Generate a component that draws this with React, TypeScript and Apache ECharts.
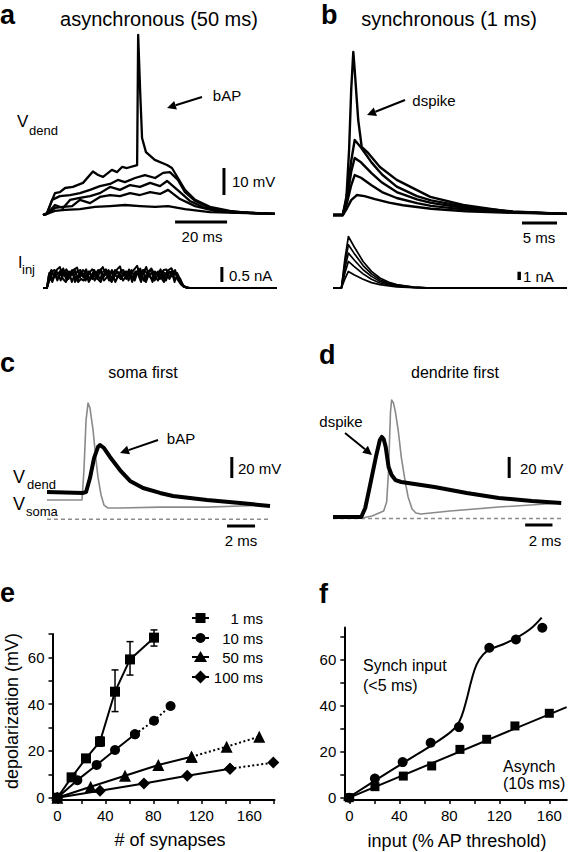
import React, { useEffect, useRef } from "react";
import * as echarts from "echarts";

const FONT = "'Liberation Sans', Arial, Helvetica, sans-serif";

// ---------- Panel a : asynchronous (50 ms) ----------  [t (ms), V (mV)]
const aV1 = [[0,0],[1.5,0.7],[4.6,8.1],[6.5,8.5],[8.5,10],[11.5,10.4],[15.4,11.9],[19.2,16.1],[21.2,14.8],[23.1,14.1],[26.5,16.7],[28.5,15.9],[30.4,17.8],[32.3,17.4],[36.2,18.5],[36.6,66.7],[37.4,45],[38.1,28.5],[39.6,23.3],[43,20.4],[47.7,18.5],[49.6,17.4],[51.9,13.7],[54.6,9.3],[58.5,5.6],[64.2,3],[71.9,1.5],[79.6,0.7],[89.2,0.4]];
const aV2 = [[0,0],[1.5,0.4],[3.5,5.6],[6.5,7],[10.4,7.4],[14.2,8.1],[18.1,9.3],[21.9,10.7],[25.8,11.5],[28.8,13],[31.5,12.2],[35.4,13.7],[39.2,14.8],[43.1,13.7],[46.2,15.6],[48.8,15.9],[51.9,13],[54.6,8.5],[58.5,5.2],[64.2,2.6],[71.9,1.1],[89.2,0.4]];
const aV3 = [[0,0],[1.5,0.4],[4.6,3.7],[7.7,2.6],[10.4,5.6],[14.2,6.3],[18.1,7],[21.9,8.1],[25.8,10.4],[29.6,9.3],[33.5,11.1],[37.3,10.4],[41.2,11.9],[45,10.7],[47.7,12.6],[52.7,8.5],[56.5,5.2],[62.3,2.6],[71.9,1.1],[89.2,0.4]];
const aV4 = [[0,0],[1.5,0.4],[4.6,2.6],[7.7,3],[11.2,3.3],[14.2,5.6],[18.1,4.4],[21.9,6.7],[25.8,7.4],[29.6,7],[33.5,8.1],[37.3,7.4],[41.2,8.5],[45,7.8],[48.1,9.3],[52.7,5.9],[58.5,3.3],[66.2,1.5],[89.2,0.4]];
const aV5 = [[0,0],[1.5,0.4],[4.6,1.5],[8.5,1.9],[14.2,2.2],[20,3],[25.8,3.3],[31.5,3.7],[37.3,3.3],[43.1,3],[48.1,3.3],[54.6,2.2],[64.2,1.1],[89.2,0.4]];
// injected current [t (ms), I (nA)]
const aI1 = [[0,0],[1.5,0],[2.2,0.4],[3.2,0.6],[4.3,0.35],[5.4,0.62],[6.5,0.7],[7.6,0.4],[8.7,0.55],[9.8,0.3],[10.9,0.5],[12,0.62],[13.1,0.68],[14.2,0.35],[15.3,0.5],[16.4,0.25],[17.5,0.55],[18.6,0.4],[19.7,0.6],[20.8,0.3],[21.9,0.55],[23,0.7],[24.1,0.45],[25.2,0.6],[26.3,0.3],[27.4,0.5],[28.5,0.62],[29.6,0.72],[30.7,0.4],[31.8,0.55],[32.9,0.25],[34,0.5],[35.1,0.62],[36.2,0.74],[37.3,0.45],[38.4,0.6],[39.5,0.3],[40.6,0.55],[41.7,0.65],[42.8,0.35],[43.9,0.5],[45,0.3],[46.1,0.55],[47.2,0.45],[48.3,0.6],[49.4,0.66],[50.5,0.45],[51.6,0.5],[52.7,0.25],[53.8,0.1],[55,0.02],[57,0],[90,0]];
const aI2 = [[0,0],[1.5,0],[2.3,0.25],[3.4,0.55],[4.5,0.6],[5.6,0.3],[6.7,0.45],[7.8,0.65],[8.9,0.35],[10,0.55],[11.1,0.2],[12.2,0.45],[13.3,0.55],[14.4,0.6],[15.5,0.35],[16.6,0.62],[17.7,0.3],[18.8,0.45],[19.9,0.25],[21,0.5],[22.1,0.62],[23.2,0.35],[24.3,0.5],[25.4,0.25],[26.5,0.6],[27.6,0.45],[28.7,0.35],[29.8,0.55],[30.9,0.6],[32,0.3],[33.1,0.62],[34.2,0.4],[35.3,0.25],[36.4,0.55],[37.5,0.35],[38.6,0.5],[39.7,0.7],[40.8,0.4],[41.9,0.3],[43,0.55],[44.1,0.45],[45.2,0.62],[46.3,0.3],[47.4,0.5],[48.5,0.35],[49.6,0.55],[50.7,0.3],[51.8,0.35],[52.9,0.15],[54,0.05],[56,0],[90,0]];
const aI3 = [[0,0],[1.5,0],[2.4,0.5],[3.5,0.3],[4.6,0.45],[5.7,0.52],[6.8,0.25],[7.9,0.5],[9,0.62],[10.1,0.45],[11.2,0.6],[12.3,0.2],[13.4,0.4],[14.5,0.55],[15.6,0.45],[16.7,0.3],[17.8,0.5],[18.9,0.62],[20,0.55],[21.1,0.3],[22.2,0.2],[23.3,0.45],[24.4,0.55],[25.5,0.45],[26.6,0.3],[27.7,0.6],[28.8,0.5],[29.9,0.3],[31,0.45],[32.1,0.55],[33.2,0.5],[34.3,0.2],[35.4,0.45],[36.5,0.6],[37.6,0.55],[38.7,0.25],[39.8,0.45],[40.9,0.55],[42,0.6],[43.1,0.4],[44.2,0.25],[45.3,0.45],[46.4,0.6],[47.5,0.62],[48.6,0.3],[49.7,0.45],[50.8,0.6],[51.9,0.3],[53,0.2],[54.2,0.05],[56,0],[90,0]];
const aI4 = [[0,0],[1.5,0],[2.2,0.2],[3.3,0.45],[4.4,0.5],[5.5,0.25],[6.6,0.55],[7.7,0.3],[8.8,0.2],[9.9,0.45],[11,0.55],[12.1,0.4],[13.2,0.25],[14.3,0.45],[15.4,0.6],[16.5,0.5],[17.6,0.2],[18.7,0.35],[19.8,0.5],[20.9,0.45],[22,0.3],[23.1,0.55],[24.2,0.62],[25.3,0.35],[26.4,0.2],[27.5,0.4],[28.6,0.55],[29.7,0.45],[30.8,0.25],[31.9,0.4],[33,0.45],[34.1,0.6],[35.2,0.35],[36.3,0.5],[37.4,0.65],[38.5,0.3],[39.6,0.2],[40.7,0.45],[41.8,0.5],[42.9,0.25],[44,0.4],[45.1,0.55],[46.2,0.45],[47.3,0.25],[48.4,0.5],[49.5,0.55],[50.6,0.2],[51.7,0.45],[52.8,0.3],[54,0.06],[56,0],[90,0]];
const aI5 = [[0,0],[1.5,0],[2.5,0.35],[3.6,0.2],[4.7,0.5],[5.8,0.45],[6.9,0.6],[8,0.5],[9.1,0.25],[10.2,0.4],[11.3,0.45],[12.4,0.58],[13.5,0.2],[14.6,0.3],[15.7,0.25],[16.8,0.45],[17.9,0.55],[19,0.3],[20.1,0.45],[21.2,0.6],[22.3,0.5],[23.4,0.25],[24.5,0.35],[25.6,0.55],[26.7,0.5],[27.8,0.2],[28.9,0.4],[30,0.3],[31.1,0.55],[32.2,0.35],[33.3,0.45],[34.4,0.3],[35.5,0.55],[36.6,0.45],[37.7,0.2],[38.8,0.6],[39.9,0.5],[41,0.45],[42.1,0.2],[43.2,0.45],[44.3,0.55],[45.4,0.35],[46.5,0.2],[47.6,0.4],[48.7,0.55],[49.8,0.4],[50.9,0.5],[52,0.25],[53.1,0.12],[54.5,0.03],[56,0],[90,0]];

// ---------- Panel b : synchronous (1 ms) ----------
const bV1 = [[0,0],[1.4,0],[1.9,5.6],[2.3,24.1],[2.6,46.3],[2.9,60.4],[3.1,53.7],[3.6,35.2],[4.1,25.2],[4.9,23.3],[6.7,17.8],[9.1,13],[13.9,6.7],[18.6,3.7],[25.7,1.1],[33.4,0.4]];
const bV2 = [[0,0],[1.4,0],[2,8],[2.6,20],[3.1,27.8],[4,25],[5.5,19.5],[7,15],[9.1,10.5],[12,7],[14,5.4],[19,3],[25.7,1.3],[33.4,0.4]];
const bV3 = [[0,0],[1.4,0],[2,6],[2.6,16],[3.1,21.1],[4,19.5],[5.5,15.5],[7,12],[9.1,8.5],[12,5.8],[14,4.5],[19,2.5],[25.7,1.1],[33.4,0.4]];
const bV4 = [[0,0],[1.4,0],[2,4.5],[2.6,11],[3.1,14.8],[4,13.8],[5.5,11],[7,8.5],[9.1,6.3],[12,4.4],[14,3.4],[19,2],[25.7,1],[33.4,0.4]];
const bV5 = [[0,0],[1.4,0],[2,2.5],[2.6,5.5],[3.4,7.4],[4.5,7],[6,5.9],[8,4.6],[10,3.6],[14,2.3],[19,1.4],[25.7,0.8],[33.4,0.4]];
const bI1 = [[0,0],[1.2,0],[1.7,3.5],[2.2,6.2],[3,5],[4.3,3.2],[5.5,2],[6.7,1.2],[8,0.7],[9.1,0.4],[11.5,0.1],[14,0],[33.4,0]];
const bI2 = [[0,0],[1.2,0],[1.7,3],[2.2,5.2],[3,4.2],[4.3,2.7],[5.5,1.7],[6.7,1],[8,0.6],[9.1,0.35],[11.5,0.1],[14,0],[33.4,0]];
const bI3 = [[0,0],[1.2,0],[1.7,2.4],[2.2,4.2],[3,3.4],[4.3,2.2],[5.5,1.4],[6.7,0.8],[8,0.5],[9.1,0.3],[11.5,0.08],[14,0],[33.4,0]];
const bI4 = [[0,0],[1.2,0],[1.7,1.8],[2.2,3.2],[3,2.6],[4.3,1.7],[5.5,1.05],[6.7,0.6],[8,0.38],[9.1,0.22],[11.5,0.06],[14,0],[33.4,0]];
const bI5 = [[0,0],[1.2,0],[1.7,1.1],[2.2,2],[3,1.6],[4.3,1.05],[5.5,0.65],[6.7,0.4],[8,0.24],[9.1,0.14],[11.5,0.04],[14,0],[33.4,0]];

// ---------- Panel c : soma first ----------
const cDend = [[0,25.3],[2.57,24.4],[2.79,25.3],[3.07,38.2],[3.36,56.7],[3.64,66.9],[3.79,68.8],[4.07,66],[4.5,57.7],[5.21,45.6],[5.93,35.5],[6.86,29],[8.07,24.4],[9,21.6],[11.43,17.9],[13.79,15.1],[15.93,12.3]];
const cSoma = [[0,17.9],[2.5,17.9],[2.64,45.6],[2.79,91.9],[2.93,107.6],[3.07,103],[3.29,82.6],[3.5,54.9],[3.64,39.2],[3.86,22.5],[4.07,13.2],[4.36,10.4],[5.21,10.4],[8.07,11.3],[11.43,11.3],[15.93,13.2]];
// ---------- Panel d : dendrite first ----------
const dDend = [[0,1.4],[2.07,1.4],[2.36,9.7],[2.64,26.4],[3.14,56.9],[3.43,72.7],[3.57,75.5],[3.71,73.6],[3.86,66.2],[4.07,47.7],[4.29,40.3],[4.57,35.6],[5,33.8],[7.43,29.2],[9.79,23.6],[12.14,19],[14.57,16.2],[16.71,14.4]];
const dSoma = [[0,0.5],[2.14,0.5],[2.86,2.3],[3.71,6.9],[3.93,15.3],[4.07,44.9],[4.14,72.7],[4.21,98.6],[4.29,109.7],[4.43,106.9],[4.57,98.6],[4.79,80.1],[5,56.9],[5.29,33.8],[5.5,19.9],[5.79,8.8],[6.07,5.1],[6.43,4.2],[8.57,6.9],[12.14,10.6],[16.71,14.4]];

// ---------- scale bars (axis units) ----------
const aVbar = [[69.6,7.4],[69.6,17.4]];      // 10 mV
const aTbar = [[50.8,-2.6],[70.8,-2.6]];     // 20 ms
const aIbar = [[68.8,0.2],[68.8,0.7]];       // 0.5 nA
const bTbar = [[27,-3],[32,-3]];             // 5 ms
const bIbar = [[26.6,0.96],[26.6,1.96]];     // 1 nA
const cVbar = [[13.2,38.2],[13.2,57.7]];     // 20 mV
const cTbar = [[12.86,-6.2],[14.86,-6.2]];   // 2 ms
const dVbar = [[12.9,37.5],[12.9,57]];       // 20 mV
const dTbar = [[14.07,-6],[16.07,-6]];       // 2 ms
const cBase = [[0,0],[15.93,0]];
const dBase = [[0,0],[16.71,0]];

// ---------- Panel e ----------
const eNames = ["1 ms", "10 ms", "50 ms", "100 ms"];
const eSymbols = ["rect", "circle", "triangle", "diamond"];
const eX = [
  [0, 11.9, 23.9, 35.6, 48.1, 60.6, 80.6],
  [0, 16.7, 32.8, 48.1, 64.7, 80.6, 94.4],
  [0, 27.8, 56.4, 84.2, 111.9, 141.1, 168.3],
  [0, 35.6, 72.2, 108.3, 143.9, 180],
];
const eY = [
  [0, 8.7, 16.8, 24, 45.3, 59.1, 68.4],
  [0, 7.5, 14, 20.4, 27.1, 32.9, 39.2],
  [0, 4.7, 9.4, 14, 17.5, 21.8, 26.1],
  [0, 3, 6.1, 9.4, 12.4, 15],
];
const eDottedFrom = [99, 4, 4, 4];
const eErr = [[23.9,15.3,18.3],[35.6,22,26],[48.1,36.8,54.6],[60.6,52.4,66.7],[80.6,64.8,71.7]];
const eTicksX = [0,20,40,60,80,100,120,140,160,180];
const eLabelsX = [0,40,80,120,160];
const eTicksY = [0,10,20,30,40,50,60,70];
const eLabelsY = [0,20,40,60];

// ---------- Panel f ----------
const fSynX = [0, 20.5, 42.7, 65.1, 87.7, 112, 133.3, 154.4];
const fSynY = [0, 8.3, 15.5, 23.9, 30.7, 65.2, 68.8, 73.9];
const fAsyX = [0, 20.5, 43.2, 65.9, 88.5, 109.9, 132.5, 160];
const fAsyY = [0, 4.8, 9.4, 13.8, 21, 25.4, 31.2, 36.7];
const fSynFit = [[0,0.3],[22.1,7.95],[44.3,15.5],[67,23.2],[80.5,28.3],[85.9,31.2],[89.9,35.5],[93.9,42.8],[97.9,51.4],[101.9,58],[107.2,62.3],[112.5,64.5],[123.2,66.7],[133.9,69.6],[144.5,73.2],[153.9,78.3]];
const fAsyFit = [[0,0],[173.9,39.4]];
const fTicksX = [0,20,40,60,80,100,120,140,160];
const fLabelsX = [0,40,80,120,160];
const fTicksY = [0,10,20,30,40,50,60,70];
const fLabelsY = [0,20,40,60];

function txt(text: string, x: number, y: number, size: number, o: any = {}) {
  const align = o.align || "left";
  return {
    type: "text", x, y, rotation: o.rot || 0, silent: true,
    style: {
      text, fontSize: size, fontFamily: FONT, fontWeight: o.bold ? "bold" : "normal",
      fill: o.color || "#000", textAlign: align, align, textVerticalAlign: "middle", verticalAlign: "middle",
    },
  };
}

function arrow(x1: number, y1: number, x2: number, y2: number) {
  const a = Math.atan2(y2 - y1, x2 - x1);
  const L = 9, W = 4.5;
  const bx = x2 - L * Math.cos(a), by = y2 - L * Math.sin(a);
  const px = -Math.sin(a), py = Math.cos(a);
  return [
    { type: "line", silent: true, shape: { x1, y1, x2: bx, y2: by }, style: { stroke: "#000", lineWidth: 2 } },
    { type: "polygon", silent: true, shape: { points: [[x2, y2], [bx + W * px, by + W * py], [bx - W * px, by - W * py]] }, style: { fill: "#000" } },
  ];
}

function line(g: number, data: any, color = "#000", width = 2, type: any = "solid", z = 2) {
  return {
    type: "line", xAxisIndex: g, yAxisIndex: g, data, showSymbol: false, symbol: "none",
    lineStyle: { color, width, type, join: "round" }, clip: false, silent: true, z, animation: false,
  };
}

function hiddenAxes(grids: any[]) {
  const xs: any[] = [], ys: any[] = [];
  grids.forEach((g, i) => {
    xs.push({ type: "value", gridIndex: i, min: g.xr[0], max: g.xr[1], show: false });
    ys.push({ type: "value", gridIndex: i, min: g.yr[0], max: g.yr[1], show: false });
  });
  return { xs, ys };
}

export default function App() {
  const ref = useRef<HTMLDivElement>(null);
  useEffect(() => {
    if (!ref.current) return;
    const chart = echarts.init(ref.current, undefined, { renderer: "svg" });

    const traceGrids = [
      { left: 43, top: 31.4, width: 234, height: 194.4, xr: [0, 90], yr: [-4, 68] },
      { left: 43, top: 258, width: 234, height: 39, xr: [0, 90], yr: [-0.3, 1] },
      { left: 333, top: 31.4, width: 238, height: 194.4, xr: [0, 34], yr: [-4, 68] },
      { left: 333, top: 229.9, width: 238, height: 66.4, xr: [0, 34], yr: [-1, 7] },
      { left: 47, top: 398.34, width: 238, height: 129.6, xr: [0, 17], yr: [-8, 112] },
      { left: 333, top: 397.54, width: 245, height: 129.6, xr: [0, 17.5], yr: [-8, 112] },
    ];
    const { xs, ys } = hiddenAxes(traceGrids);

    const axStyle = {
      axisLine: { show: true, onZero: false, lineStyle: { color: "#000", width: 2 } },
      splitLine: { show: false },
    };
    const lbl = { color: "#000", fontSize: 15, fontFamily: FONT };
    xs.push({ type: "value", gridIndex: 6, min: -4, max: 181, ...axStyle,
      axisTick: { show: true, length: 4, lineStyle: { color: "#000", width: 1.5 }, customValues: eTicksX },
      axisLabel: { ...lbl, margin: 8, customValues: eLabelsX } });
    ys.push({ type: "value", gridIndex: 6, min: -1, max: 70, ...axStyle,
      axisTick: { show: true, length: 4, lineStyle: { color: "#000", width: 1.5 }, customValues: eTicksY },
      axisLabel: { ...lbl, margin: 8, customValues: eLabelsY } });
    xs.push({ type: "value", gridIndex: 7, min: -4, max: 174, ...axStyle,
      axisTick: { show: true, length: 4, lineStyle: { color: "#000", width: 1.5 }, customValues: fTicksX },
      axisLabel: { ...lbl, margin: 8, customValues: fLabelsX } });
    ys.push({ type: "value", gridIndex: 7, min: -1, max: 74, ...axStyle,
      axisTick: { show: true, length: 4, lineStyle: { color: "#000", width: 1.5 }, customValues: fTicksY },
      axisLabel: { ...lbl, margin: 8, customValues: fLabelsY } });

    const grids = traceGrids.map((g) => ({ left: g.left, top: g.top, width: g.width, height: g.height }));
    grids.push({ left: 52.5, top: 633.9, width: 222, height: 166.14 });
    grids.push({ left: 344.3, top: 627.5, width: 222.5, height: 172.5 });

    const series: any[] = [];
    [aV5, aV4, aV3, aV2, aV1].forEach((d) => series.push(line(0, d, "#000", 2.3)));
    [aI1, aI2, aI3, aI4, aI5].forEach((d) => series.push(line(1, d, "#000", 2)));
    [bV5, bV4, bV3, bV2, bV1].forEach((d) => series.push(line(2, d, "#000", 2.4)));
    [bI1, bI2, bI3, bI4, bI5].forEach((d) => series.push(line(3, d, "#000", 1.7)));
    series.push(line(0, aVbar, "#000", 3), line(0, aTbar, "#000", 3), line(1, aIbar, "#000", 3));
    series.push(line(2, bTbar, "#000", 3), line(3, bIbar, "#000", 3.5));
    series.push(line(4, cBase, "#8c8c8c", 1.6, [4, 3]), line(4, cSoma, "#8a8a8a", 1.6), line(4, cDend, "#000", 4));
    series.push(line(5, dBase, "#8c8c8c", 1.6, [4, 3]), line(5, dSoma, "#8a8a8a", 1.6), line(5, dDend, "#000", 4));
    series.push(line(4, cVbar, "#000", 3), line(4, cTbar, "#000", 3), line(5, dVbar, "#000", 3), line(5, dTbar, "#000", 3));

    series.push({
      type: "custom", xAxisIndex: 6, yAxisIndex: 6, data: eErr, silent: true, z: 3, clip: false,
      renderItem: (_p: any, api: any) => {
        const lo = api.coord([api.value(0), api.value(1)]);
        const hi = api.coord([api.value(0), api.value(2)]);
        const c = 3.5;
        const st = { stroke: "#000", lineWidth: 1.5 };
        return { type: "group", children: [
          { type: "line", shape: { x1: lo[0], y1: lo[1], x2: hi[0], y2: hi[1] }, style: st },
          { type: "line", shape: { x1: lo[0] - c, y1: lo[1], x2: lo[0] + c, y2: lo[1] }, style: st },
          { type: "line", shape: { x1: hi[0] - c, y1: hi[1], x2: hi[0] + c, y2: hi[1] }, style: st },
        ] };
      },
    });
    const eSizes = [10, 10, 12, 12];
    eX.forEach((xsArr, i) => {
      const pts = xsArr.map((x, j) => [x, eY[i][j]]);
      const k = Math.min(eDottedFrom[i], pts.length - 1);
      const solid = pts.slice(0, k + 1);
      const dotted = pts.slice(k);
      const common = { type: "line", xAxisIndex: 6, yAxisIndex: 6, symbol: eSymbols[i], symbolSize: eSizes[i],
        showSymbol: true, itemStyle: { color: "#000", opacity: 1 }, clip: false, silent: true, z: 4 };
      series.push({ ...common, name: eNames[i], data: solid, lineStyle: { color: "#000", width: 2 } });
      if (dotted.length > 1) series.push({ ...common, data: dotted, lineStyle: { color: "#000", width: 2, type: [2, 2.5] } });
    });

    series.push({ type: "line", xAxisIndex: 7, yAxisIndex: 7, data: fSynFit, smooth: 0.4, showSymbol: false, symbol: "none",
      lineStyle: { color: "#000", width: 2 }, clip: false, silent: true, z: 3 });
    series.push({ type: "line", xAxisIndex: 7, yAxisIndex: 7, data: fAsyFit, showSymbol: false, symbol: "none",
      lineStyle: { color: "#000", width: 2 }, clip: false, silent: true, z: 3 });
    series.push({ type: "scatter", xAxisIndex: 7, yAxisIndex: 7, data: fSynX.map((x, i) => [x, fSynY[i]]),
      symbol: "circle", symbolSize: 10, itemStyle: { color: "#000", opacity: 1 }, clip: false, silent: true, z: 4 });
    series.push({ type: "scatter", xAxisIndex: 7, yAxisIndex: 7, data: fAsyX.map((x, i) => [x, fAsyY[i]]),
      symbol: "rect", symbolSize: 9, itemStyle: { color: "#000", opacity: 1 }, clip: false, silent: true, z: 4 });

    const legRows = [618, 638, 657, 677];
    const legendEls: any[] = [];
    legRows.forEach((y, i) => {
      legendEls.push({ type: "line", silent: true, shape: { x1: 192, y1: y, x2: 209, y2: y }, style: { stroke: "#000", lineWidth: 2 } });
      const cx = 200.5;
      if (i === 0) legendEls.push({ type: "rect", silent: true, shape: { x: cx - 5, y: y - 5, width: 10, height: 10 }, style: { fill: "#000" } });
      if (i === 1) legendEls.push({ type: "circle", silent: true, shape: { cx, cy: y, r: 5 }, style: { fill: "#000" } });
      if (i === 2) legendEls.push({ type: "polygon", silent: true, shape: { points: [[cx, y - 6], [cx + 6.5, y + 5], [cx - 6.5, y + 5]] }, style: { fill: "#000" } });
      if (i === 3) legendEls.push({ type: "polygon", silent: true, shape: { points: [[cx, y - 6.5], [cx + 6.5, y], [cx, y + 6.5], [cx - 6.5, y]] }, style: { fill: "#000" } });
      legendEls.push(txt(eNames[i], 263, y, 15, { align: "right" }));
    });

    const graphic = [
      txt("a", 0, 15, 27, { bold: true }),
      txt("b", 321, 15, 27, { bold: true }),
      txt("c", 0, 363, 27, { bold: true }),
      txt("d", 319, 355, 27, { bold: true }),
      txt("e", 0, 593, 27, { bold: true }),
      txt("f", 319, 594, 27, { bold: true }),
      txt("asynchronous (50 ms)", 159, 19, 20, { align: "center" }),
      txt("synchronous (1 ms)", 449, 19, 20, { align: "center" }),
      txt("soma first", 143, 372, 16, { align: "center" }),
      txt("dendrite first", 455, 372, 16, { align: "center" }),
      txt("V", 17, 121, 17), txt("dend", 29, 130, 13),
      txt("I", 18, 262, 16), txt("inj", 22, 269, 13),
      txt("bAP", 227, 95, 15, { align: "center" }),
      txt("dspike", 434, 100, 15, { align: "center" }),
      txt("bAP", 181, 438, 15, { align: "center" }),
      txt("dspike", 341, 421, 15, { align: "center" }),
      txt("10 mV", 232, 181, 15), txt("20 ms", 202, 236, 15, { align: "center" }),
      txt("0.5 nA", 229, 275, 15), txt("5 ms", 539, 237, 15, { align: "center" }),
      txt("1 nA", 523, 276, 15),
      txt("20 mV", 238, 468, 15), txt("2 ms", 241, 540, 15, { align: "center" }),
      txt("20 mV", 520, 468, 15), txt("2 ms", 545, 540, 15, { align: "center" }),
      txt("V", 13, 477, 18), txt("dend", 27, 484, 13),
      txt("V", 13, 504, 18), txt("soma", 26, 511, 13),
      txt("depolarization (mV)", 12, 711, 18, { align: "center", rot: Math.PI / 2 }),
      txt("# of synapses", 170, 840, 18, { align: "center" }),
      txt("input (% AP threshold)", 457, 841, 18, { align: "center" }),
      txt("Synch input", 363, 665, 16), txt("(<5 ms)", 363, 685, 16),
      txt("Asynch", 503, 766, 16), txt("(10s ms)", 503, 783, 16),
      ...arrow(202, 97, 167, 108),
      ...arrow(405, 100, 367, 115),
      ...arrow(158, 440, 120, 453),
      ...arrow(345, 433, 372, 455),
      ...legendEls,
    ];

    chart.setOption({
      animation: false,
      backgroundColor: "#fff",
      textStyle: { fontFamily: FONT },
      grid: grids,
      xAxis: xs,
      yAxis: ys,
      series,
      graphic,
    });
    return () => chart.dispose();
  }, []);
  return <div ref={ref} style={{ position: "fixed", left: 0, top: 0, width: 572, height: 852, background: "#fff" }} />;
}
